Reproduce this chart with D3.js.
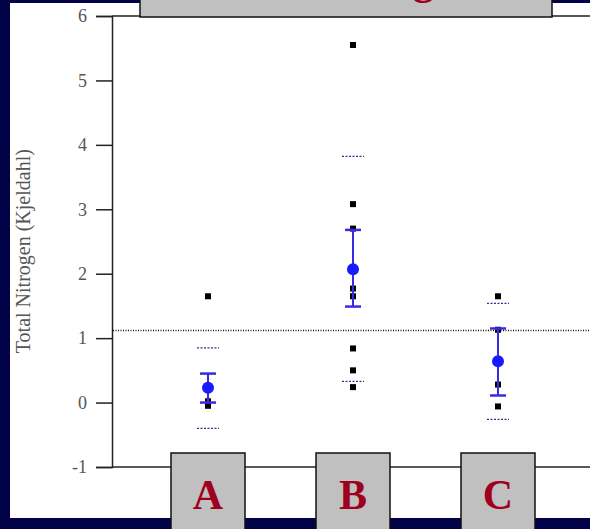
<!DOCTYPE html>
<html>
<head>
<meta charset="utf-8">
<script src="https://cdn.jsdelivr.net/npm/d3@7"></script>
<style>
  body { margin: 0; background: #020248; }
  svg { display: block; }
</style>
</head>
<body>
<div id="main-svg"></div>
<script>
// groups and the values
var categories = ["A", "B", "C"];
var points = [
  [1.65, 0.02, -0.05],
  [5.55, 3.08, 2.7, 1.77, 1.65, 0.84, 0.5, 0.24],
  [1.65, 1.13, 0.28, -0.06]
];
var means = [0.23, 2.07, 0.64];
var ciLow = [0.0, 1.49, 0.11];
var ciHigh = [0.45, 2.68, 1.15];
var predLow = [-0.4, 0.33, -0.26];
var predHigh = [0.85, 3.82, 1.54];
var refLine = 1.12;
var yTicks = [6, 5, 4, 3, 2, 1, 0, -1];

var width = 590, height = 529;

var svg = d3.select("#main-svg")
  .append("svg")
  .attr("width", width)
  .attr("height", height);

// white slide panel
svg.append("rect")
  .attr("x", 10).attr("y", 3)
  .attr("width", 580).attr("height", 515)
  .attr("fill", "#ffffff");

var y = d3.scaleLinear().domain([-1, 6]).range([467, 16]);
var x = d3.scalePoint().domain(categories).range([208, 498]);

// y axis (plain hyphen for negatives, like the original)
var yAxis = svg.append("g")
  .attr("transform", "translate(112,0)")
  .call(d3.axisLeft(y).tickValues(yTicks).tickSize(16).tickPadding(9)
    .tickFormat(function (d) { return d < 0 ? "-" + (-d) : "" + d; }));
yAxis.select(".domain").attr("stroke", "#222").attr("stroke-width", 1.5);
yAxis.selectAll(".tick line").attr("stroke", "#222").attr("stroke-width", 1.5);
yAxis.selectAll(".tick text")
  .attr("fill", "#555")
  .attr("font-family", "Liberation Serif, serif")
  .attr("font-size", 18);

// top and bottom frame lines
svg.append("line")
  .attr("x1", 112).attr("x2", 590)
  .attr("y1", y(6)).attr("y2", y(6))
  .attr("stroke", "#222").attr("stroke-width", 1.5);
svg.append("line")
  .attr("x1", 112).attr("x2", 590)
  .attr("y1", y(-1)).attr("y2", y(-1))
  .attr("stroke", "#222").attr("stroke-width", 1.5);

// y label
svg.append("text")
  .attr("transform", "translate(30," + y(2.35) + ") rotate(-90)")
  .attr("text-anchor", "middle")
  .attr("fill", "#555")
  .attr("font-family", "Liberation Serif, serif")
  .attr("font-size", 20)
  .text("Total Nitrogen (Kjeldahl)");

// dotted reference line
svg.append("line")
  .attr("x1", 113).attr("x2", 590)
  .attr("y1", y(refLine)).attr("y2", y(refLine))
  .attr("stroke", "#111").attr("stroke-width", 1.5)
  .attr("stroke-dasharray", "1,1.5");

categories.forEach(function (c, i) {
  var cx = x(c);
  var g = svg.append("g");

  // prediction limits
  [predLow[i], predHigh[i]].forEach(function (v) {
    g.append("line")
      .attr("x1", cx - 11).attr("x2", cx + 11)
      .attr("y1", y(v)).attr("y2", y(v))
      .attr("stroke", "#3030a0").attr("stroke-width", 1.3)
      .attr("stroke-dasharray", "2,1.5");
  });

  // raw points
  g.selectAll("rect.pt")
    .data(points[i])
    .enter().append("rect")
    .attr("class", "pt")
    .attr("x", cx - 3)
    .attr("y", function (d) { return y(d) - 3; })
    .attr("width", 6).attr("height", 6)
    .attr("fill", "#000");

  // confidence interval
  g.append("line")
    .attr("x1", cx).attr("x2", cx)
    .attr("y1", y(ciLow[i])).attr("y2", y(ciHigh[i]))
    .attr("stroke", "#3a2ae0").attr("stroke-width", 2);
  [ciLow[i], ciHigh[i]].forEach(function (v) {
    g.append("line")
      .attr("x1", cx - 8).attr("x2", cx + 8)
      .attr("y1", y(v)).attr("y2", y(v))
      .attr("stroke", "#3a2ae0").attr("stroke-width", 2.5);
  });

  // mean
  g.append("circle")
    .attr("cx", cx).attr("cy", y(means[i]))
    .attr("r", 6)
    .attr("fill", "#1a1aff");

  // category label box
  svg.append("rect")
    .attr("x", cx - 37).attr("y", 453)
    .attr("width", 74).attr("height", 80)
    .attr("fill", "#c0c0c0")
    .attr("stroke", "#111").attr("stroke-width", 1.5);
  svg.append("text")
    .attr("x", cx).attr("y", 509)
    .attr("text-anchor", "middle")
    .attr("fill", "#a00020")
    .attr("font-family", "Liberation Serif, serif")
    .attr("font-weight", "bold")
    .attr("font-size", 42)
    .text(c);
});

// title box, mostly off the top of the slide
svg.append("rect")
  .attr("x", 140).attr("y", -60)
  .attr("width", 412).attr("height", 77)
  .attr("fill", "#c0c0c0")
  .attr("stroke", "#111").attr("stroke-width", 1.5);
svg.append("text")
  .attr("x", 346).attr("y", -6)
  .attr("text-anchor", "middle")
  .attr("fill", "#a00020")
  .attr("font-family", "Liberation Serif, serif")
  .attr("font-weight", "bold")
  .attr("font-size", 42)
  .text("Total Nitrogen");
</script>
</body>
</html>
